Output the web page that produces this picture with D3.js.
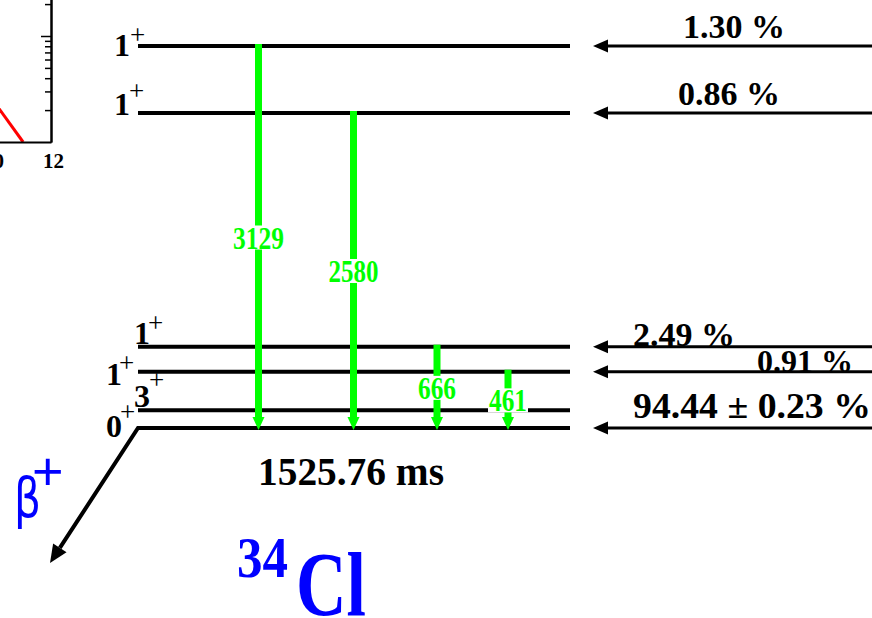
<!DOCTYPE html>
<html>
<head>
<meta charset="utf-8">
<script src="https://cdn.jsdelivr.net/npm/d3@7"></script>
<style>
  html, body { margin: 0; padding: 0; background: #fff; }
  svg { display: block; }
  text { font-family: "Liberation Serif", "Times New Roman", serif; }
</style>
</head>
<body>
<svg id="chart" width="872" height="618"></svg>
<script>
// ---- Decay scheme data ----
const levelEnergies = [0, 146, 461, 666, 2580, 3129];      // keV
const levelSpins    = ["0", "3", "1", "1", "1", "1"];
const levelParities = ["+", "+", "+", "+", "+", "+"];
const feedings      = [94.44, null, 0.91, 2.49, 0.86, 1.30]; // %
const feedingErrors = [0.23, null, null, null, null, null];
const gammaEnergies = [3129, 2580, 666, 461];
const gammaFrom     = [3129, 2580, 666, 461];
const gammaTo       = [0, 0, 0, 0];
const halfLifeMs    = 1525.76;
const parentMass    = "34";
const parentSymbol  = "Cl";
const decayLabel    = "β";

// ---- Decay curve panel (partially visible) ----
const insetX          = [10, 11.07];
const insetY          = [2.63, 1.0];
const insetXTicks     = [10, 12];
const insetMajorTicks = [10];
const insetMinorTicks = [2, 3, 4, 5, 6, 7, 8, 9, 20];

const svg = d3.select("#chart");
const GREEN = "#00ff00", BLUE = "#0000ff";

// ---------- decay curve panel ----------
const xIn = d3.scaleLinear().domain([10, 12]).range([-9, 51]);
const yIn = d3.scaleLog().domain([1, 100]).range([142, -70]);
const inset = svg.append("g");

inset.append("path")
  .datum(insetX.map((v, i) => [v, insetY[i]]))
  .attr("fill", "none").attr("stroke", "#ff0000").attr("stroke-width", 3)
  .attr("d", d3.line().x(d => xIn(d[0])).y(d => yIn(d[1])));

const minorAxis = inset.append("g").attr("transform", "translate(51,0)")
  .call(d3.axisLeft(yIn).tickValues(insetMinorTicks).tickSize(6).tickSizeOuter(0).tickFormat(""));
const majorAxis = inset.append("g").attr("transform", "translate(51,0)")
  .call(d3.axisLeft(yIn).tickValues(insetMajorTicks).tickSize(10).tickSizeOuter(0).tickFormat(""));
[minorAxis, majorAxis].forEach(a => {
  a.select(".domain").attr("stroke-width", 2);
  a.selectAll(".tick line").attr("stroke-width", 1.5);
});

const xAxisG = inset.append("g").attr("transform", "translate(0,142)")
  .call(d3.axisBottom(xIn).tickValues(insetXTicks).tickFormat(d3.format("d"))
    .tickSize(0).tickSizeOuter(0).tickPadding(11));
xAxisG.select(".domain").attr("stroke-width", 2);
xAxisG.selectAll("text")
  .style("font-family", "'Liberation Serif', serif").style("font-weight", "bold")
  .style("font-size", "21px").attr("fill", "#000").attr("dx", 2);

// ---------- level scheme ----------
const y = d3.scaleLinear().domain([0, 3129]).range([428, 46]);
const lineX0 = 138, lineX1 = 570;

// level lines (ground line continues as the β+ arrow)
levelEnergies.forEach((e, i) => {
  if (e === 0) return;
  svg.append("line")
    .attr("x1", lineX0).attr("x2", lineX1)
    .attr("y1", y(e)).attr("y2", y(e))
    .attr("stroke", "#000").attr("stroke-width", 4);
});

// β+ arrow from the ground state
const tip = [50, 563];
const start = [lineX0, y(0)];
const len = Math.hypot(start[0] - tip[0], start[1] - tip[1]);
const dir = [(start[0] - tip[0]) / len, (start[1] - tip[1]) / len];
const headLen = 18, headHalf = 8;
const base = [tip[0] + dir[0] * headLen, tip[1] + dir[1] * headLen];
svg.append("path")
  .attr("d", `M${lineX1},${y(0)} L${start[0]},${start[1]} L${base[0]},${base[1]}`)
  .attr("fill", "none").attr("stroke", "#000").attr("stroke-width", 4)
  .attr("stroke-linejoin", "miter");
svg.append("path")
  .attr("d", `M${tip[0]},${tip[1]}
    L${base[0] - dir[1] * headHalf},${base[1] + dir[0] * headHalf}
    L${base[0] + dir[1] * headHalf},${base[1] - dir[0] * headHalf} Z`)
  .attr("fill", "#000");

// spin-parity labels: [digit x, digit baseline offset, sign x, sign baseline offset]
const spinLayout = [
  [106, 9, 120, -7],
  [134, -3, 149, -21],
  [106, 13, 119, 0],
  [134, -3, 148, -15],
  [114, 2, 129, -13],
  [114, 10, 130, -2]
];
levelEnergies.forEach((e, i) => {
  const [dx, dy, px, py] = spinLayout[i];
  const t = svg.append("text").attr("x", dx).attr("y", y(e) + dy);
  t.append("tspan").text(levelSpins[i])
    .attr("font-size", 32).attr("font-weight", "bold");
  t.append("tspan").text(levelParities[i])
    .attr("x", px).attr("y", y(e) + py)
    .attr("font-size", 27);
});

// gamma transitions
const gammaX = [258.5, 353.5, 437, 508];
const gammaLabelWidth = [51, 50, 38, 38];
gammaEnergies.forEach((g, i) => {
  const x = gammaX[i];
  const y0 = y(gammaFrom[i]) - 2;
  const yTip = y(gammaTo[i]) + 2;
  const hl = 13, hw = 6;
  svg.append("line")
    .attr("x1", x).attr("x2", x).attr("y1", y0).attr("y2", yTip - hl + 1)
    .attr("stroke", GREEN).attr("stroke-width", 7);
  svg.append("path")
    .attr("d", `M${x},${yTip} L${x - hw},${yTip - hl} L${x + hw},${yTip - hl} Z`)
    .attr("fill", GREEN);
  const mid = (y(gammaFrom[i]) + y(gammaTo[i])) / 2;
  const baseline = mid + 11.5;
  const w = gammaLabelWidth[i];
  svg.append("rect")
    .attr("x", x - w / 2 - 1).attr("y", baseline - 23)
    .attr("width", w + 2).attr("height", 24)
    .attr("fill", "#fff");
  svg.append("text").text(String(g))
    .attr("x", x).attr("y", baseline)
    .attr("text-anchor", "middle")
    .attr("font-size", 31).attr("font-weight", "bold")
    .attr("fill", GREEN)
    .attr("textLength", w).attr("lengthAdjust", "spacingAndGlyphs");
});

// beta feeding arrows and intensities: [text x, baseline offset, font size, width]
const feedLayout = {
  0: [633, -10, 35, 238],
  2: [757, 0, 32, null],
  3: [633, -1, 34, null],
  4: [678, -8, 34, null],
  5: [683, -8, 34, null]
};
levelEnergies.forEach((e, i) => {
  if (feedings[i] == null) return;
  const yy = y(e);
  svg.append("line")
    .attr("x1", 604).attr("x2", 872).attr("y1", yy).attr("y2", yy)
    .attr("stroke", "#000").attr("stroke-width", 3);
  svg.append("path")
    .attr("d", `M593,${yy} L608,${yy - 6.5} L608,${yy + 6.5} Z`)
    .attr("fill", "#000");
  const [tx, dy, fs, w] = feedLayout[i];
  const label = feedingErrors[i] != null
    ? `${feedings[i].toFixed(2)} ± ${feedingErrors[i].toFixed(2)} %`
    : `${feedings[i].toFixed(2)} %`;
  const t = svg.append("text").text(label)
    .attr("x", tx).attr("y", yy + dy)
    .attr("font-size", fs).attr("font-weight", "bold");
  if (w) t.attr("textLength", w).attr("lengthAdjust", "spacingAndGlyphs");
});

// half-life
svg.append("text").text(`${halfLifeMs} ms`)
  .attr("x", 258).attr("y", 485)
  .attr("font-size", 40).attr("font-weight", "bold")
  .attr("textLength", 186).attr("lengthAdjust", "spacingAndGlyphs");

// decay mode: β with superscript +
const beta = svg.append("text").attr("x", 14).attr("y", 517).attr("fill", BLUE);
beta.append("tspan").text(decayLabel)
  .attr("font-family", "'DejaVu Sans', 'Liberation Sans', sans-serif")
  .attr("font-size", 56)
  .attr("textLength", 27).attr("lengthAdjust", "spacingAndGlyphs");
beta.append("tspan").text("+")
  .attr("x", 32).attr("y", 490)
  .attr("font-family", "'Liberation Sans', sans-serif")
  .attr("font-size", 54);

// parent nucleus
const nuc = svg.append("text").attr("x", 237).attr("y", 577)
  .attr("font-weight", "bold").attr("fill", BLUE);
nuc.append("tspan").text(parentMass)
  .attr("font-size", 58)
  .attr("textLength", 51).attr("lengthAdjust", "spacingAndGlyphs");
nuc.append("tspan").text(parentSymbol)
  .attr("x", 296).attr("y", 615)
  .attr("font-size", 92)
  .attr("textLength", 70).attr("lengthAdjust", "spacingAndGlyphs");
</script>
</body>
</html>
